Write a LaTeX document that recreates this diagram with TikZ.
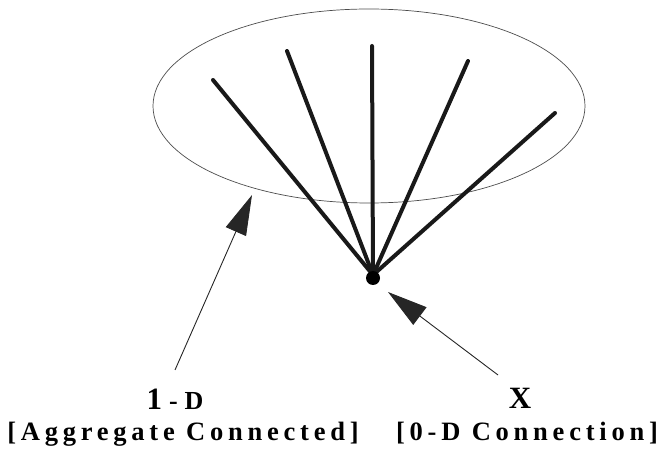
\documentclass[tikz,border=0pt]{standalone}
\usepackage{fontspec}
\setmainfont{Liberation Serif}
\newfontfamily\lblfont[LetterSpace=18]{Liberation Serif}
\usetikzlibrary{arrows.meta,shapes.geometric}
\tikzset{
  % outline of the 1-D set
  ring/.style={ellipse,draw=black!70,line width=0.7pt,
    minimum width=432pt,minimum height=194pt,inner sep=0pt},
  % thick spokes
  spoke/.style={line width=4pt,line cap=round,color=black!90},
  % pointer arrows
  ptr/.style={-{Triangle[length=40pt,width=22pt]},line width=0.9pt,color=black!85},
  % labels
  bigl/.style={font=\lblfont\bfseries\fontsize{31}{33}\selectfont},
  subl/.style={font=\lblfont\bfseries\fontsize{26.5}{28}\selectfont},
}
\newcommand{\smsz}{\fontsize{26}{28}\selectfont}
\begin{document}
\begin{tikzpicture}[x=1pt,y=-1pt]
  \useasboundingbox (0,0) rectangle (662,449);

  \node[ring] (set) at (369,106) {};

  % spokes meeting at the point
  \coordinate (hub) at (373,275);
  \foreach \px/\py in {213/80,287/51,372/46,468/61,555/113}
    \draw[spoke] (hub) -- (\px,\py);
  \node[circle,fill=black,inner sep=0pt,minimum size=14pt] (x) at (373,278) {};

  \node[bigl,anchor=base] (oneD) at (175,409) {1\hspace{7pt}{\smsz -}\hspace{7pt}{\smsz D}};
  \node[subl,anchor=base] (agg) at (183,440) {[Aggregate Connected]};
  \node[bigl,anchor=base] (xl) at (520,408) {X};
  \node[subl,anchor=base] (zero) at (527,440) {[0-D Connection]};

  \coordinate (t1) at (175,370);
  \coordinate (h1) at (252,195);
  \coordinate (t2) at (498,375);
  \coordinate (h2) at (388,292);
  \draw[ptr] (t1) -- (h1);
  \draw[ptr] (t2) -- (h2);
\end{tikzpicture}
\end{document}
